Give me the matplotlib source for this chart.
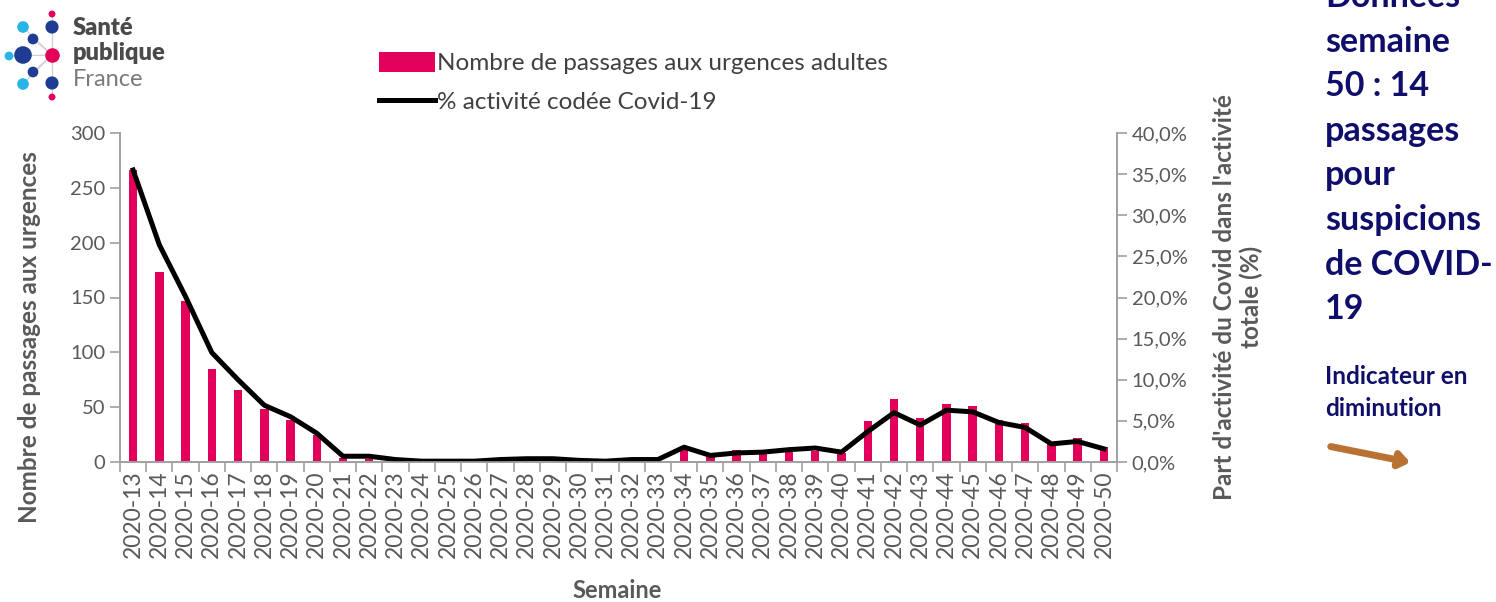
import matplotlib
matplotlib.use("Agg")
import matplotlib.pyplot as plt
import numpy as np
from matplotlib.ticker import FuncFormatter, FixedLocator

# données
semaines = [f"2020-{w}" for w in range(13, 51)]
passages = [266, 173, 147, 85, 66, 48, 38, 25, 4, 3,
            1, 0, 0, 0, 1, 1, 1, 0, 0, 1,
            1, 15, 7, 11, 8, 10, 10, 8, 37, 57,
            40, 53, 51, 38, 36, 18, 22, 14]
pct_covid = [35.5, 26.4, 20.1, 13.3, 10.0, 6.9, 5.5, 3.5, 0.7, 0.7,
             0.3, 0.1, 0.1, 0.1, 0.3, 0.4, 0.4, 0.2, 0.1, 0.3,
             0.3, 1.8, 0.8, 1.1, 1.2, 1.5, 1.7, 1.2, 3.7, 6.0,
             4.5, 6.3, 6.1, 4.8, 4.2, 2.2, 2.5, 1.6]

ROSE = "#e2005a"
GRIS = "#595959"
NAVY = "#0f0f6b"
plt.rcParams['font.family'] = ['Lato', 'DejaVu Sans']

fig = plt.figure(figsize=(14.96, 6.02), dpi=100)
ax = fig.add_axes([120 / 1496, 1 - 462 / 602, 997 / 1496, 329 / 602])
ax2 = ax.twinx()

x = np.arange(len(semaines))
ax.bar(x, passages, width=0.32, color=ROSE, zorder=2,
       label="Nombre de passages aux urgences adultes")
ax2.plot(x, pct_covid, color="black", lw=3.6, solid_joinstyle="round",
         label="% activité codée Covid-19")

ax.set_xlim(-0.5, len(semaines) - 0.5)
ax.set_ylim(0, 300)
ax2.set_ylim(0, 40)
ax.set_yticks(range(0, 301, 50))
ax2.set_yticks(range(0, 41, 5))
ax2.yaxis.set_major_formatter(FuncFormatter(lambda v, p: f"{v:.1f}%".replace(".", ",")))

ax.set_xticks(x)
ax.set_xticklabels(semaines, rotation=90, fontsize=16.5, color=GRIS)
ax.tick_params(axis="x", which="major", length=0, pad=6)
ax.xaxis.set_minor_locator(FixedLocator(np.arange(-0.5, len(semaines), 1)))
ax.tick_params(axis="x", which="minor", length=7, color="#a0a0a0", width=1.2)
ax.tick_params(axis="y", labelsize=14.5, labelcolor=GRIS, length=7,
               color="#a0a0a0", width=1.2)
ax2.tick_params(axis="y", labelsize=14.5, labelcolor=GRIS, length=7,
                color="#a0a0a0", width=1.2)

for a in (ax, ax2):
    a.spines["top"].set_visible(False)
    for s in ("left", "right", "bottom"):
        a.spines[s].set_color("#a0a0a0")
        a.spines[s].set_linewidth(1.2)

# titres d'axes
fig.text(30 / 1496, 1 - 337 / 602, "Nombre de passages aux urgences", rotation=90,
         ha="center", va="center", fontsize=17.5, fontweight="bold", color=GRIS)
fig.text(1238 / 1496, 1 - 297 / 602,
         "Part d'activité du Covid dans l'activité\ntotale (%)", rotation=90,
         ha="center", va="center", multialignment="center", fontsize=17.5,
         fontweight="bold", color=GRIS, linespacing=1.2)
fig.text(617 / 1496, 1 - 591 / 602, "Semaine", ha="center", va="center",
         fontsize=17, fontweight="bold", color=GRIS)

# légende
h1, l1 = ax.get_legend_handles_labels()
h2, l2 = ax2.get_legend_handles_labels()
fig.legend(h1 + h2, l1 + l2, loc="upper left",
           bbox_to_anchor=(362 / 1496, 1 - 35 / 602), frameon=False,
           fontsize=17.5, handlelength=2.3, handleheight=0.9, handletextpad=0.1,
           labelspacing=0.65, labelcolor="#404040", borderpad=0.2)

# logo et encadré de droite (coordonnées pixels)
deco = fig.add_axes([0, 0, 1, 1], zorder=-1)
deco.set_xlim(0, 1496)
deco.set_ylim(602, 0)
deco.axis("off")
dots_x = [52, 52, 23, 33, 9, 23, 33, 23, 52, 52]
dots_y = [14, 27, 27, 39, 56, 55, 72, 84, 83, 97]
dots_s = [25, 90, 70, 60, 40, 160, 60, 70, 90, 25]
dots_c = [ROSE, "#1f3b93", "#28b4e6", "#1f3b93", "#28b4e6", "#1f3b93",
          "#1f3b93", "#28b4e6", "#1f3b93", ROSE]
for dx, dy in zip(dots_x, dots_y):
    deco.plot([52, dx], [55, dy], color="#d0d0d0", lw=0.8, zorder=1)
deco.scatter(dots_x, dots_y, s=dots_s, c=dots_c, zorder=2, linewidths=0)
deco.scatter([52], [55], s=110, c=ROSE, zorder=3, linewidths=0)
deco.text(73, 28, "Santé", fontsize=17, fontweight="heavy", color="#4a4a4a", va="center")
deco.text(73, 53, "publique", fontsize=17, fontweight="heavy", color="#4a4a4a", va="center")
deco.text(73, 80, "France", fontsize=17, fontweight="normal", color="#7a7a7a", va="center")

lignes = ["Données", "semaine", "50 : 14", "passages", "pour",
          "suspicions", "de COVID-", "19"]
for i, t in enumerate(lignes):
    deco.text(1325, -3 + i * 44.6, t, fontsize=24.5, fontweight="bold",
              color=NAVY, va="center")
deco.text(1325, 376, "Indicateur en", fontsize=17.5, fontweight="bold",
          color=NAVY, va="center")
deco.text(1325, 409, "diminution", fontsize=17.5, fontweight="bold",
          color=NAVY, va="center")
deco.annotate("", xy=(1413, 463), xytext=(1328, 446),
              arrowprops=dict(arrowstyle="-|>,head_width=0.45,head_length=0.6",
                              color="#b87333", lw=5))

fig.savefig("out.png", dpi=100)
